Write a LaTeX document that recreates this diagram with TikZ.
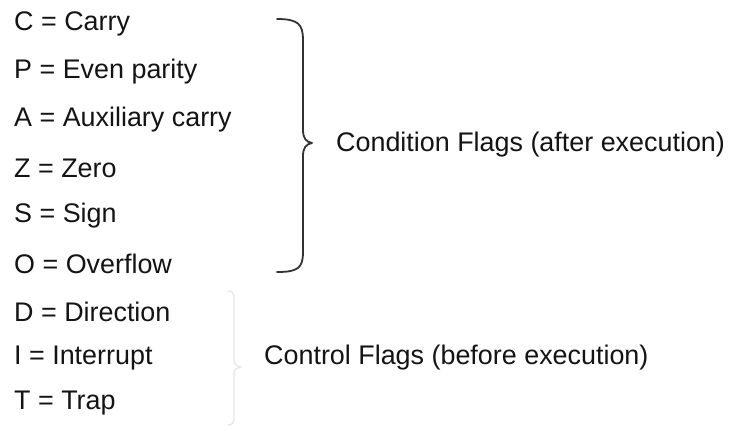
\documentclass[tikz,border=0pt]{standalone}
\usepackage{fontspec}
\setmainfont{Liberation Sans}
\begin{document}
\begin{tikzpicture}[x=1bp,y=-1bp,
  flag/.style={anchor=west,inner sep=0pt,font=\fontsize{27}{32}\selectfont,text=black!92},
  brace/.style={line width=1.8bp,draw=black!80,line cap=round,line join=round},
  faint/.style={line width=1.2bp,draw=black!10,line cap=round}]
\useasboundingbox[fill=white] (0,0) rectangle (730,430);
% flag names
\node[flag] (c) at (14,24)  {C = Carry};
\node[flag] (p) at (14,72)  {P = Even parity};
\node[flag] (a) at (14,120) {A = Auxiliary carry};
\node[flag] (z) at (14,168) {Z = Zero};
\node[flag] (s) at (14,216) {S = Sign};
\node[flag] (o) at (14,264) {O = Overflow};
\node[flag] (d) at (14,312) {D = Direction};
\node[flag] (i) at (14,358) {I = Interrupt};
\node[flag] (t) at (14,403) {T = Trap};
% group labels
\node[flag] (cond) at (336,145) {Condition Flags (after execution)};
\node[flag] (ctrl) at (264,358) {Control Flags (before execution)};
% condition brace
\draw[brace] (277,19) .. controls (298,19) and (303,24) .. (303,40)
  -- (303,130) .. controls (303,138) and (306,142) .. (312,143)
  .. controls (306,144) and (303,148) .. (303,156)
  -- (303,252) .. controls (303,268) and (298,272) .. (277,272);
% control brace
\draw[faint] (228,291) .. controls (232,291) and (234,293) .. (234,298)
  -- (234,360) .. controls (234,364) and (236,366) .. (241,367)
  .. controls (236,368) and (234,370) .. (234,374)
  -- (234,418) .. controls (234,423) and (232,425) .. (228,425);
\end{tikzpicture}
\end{document}
